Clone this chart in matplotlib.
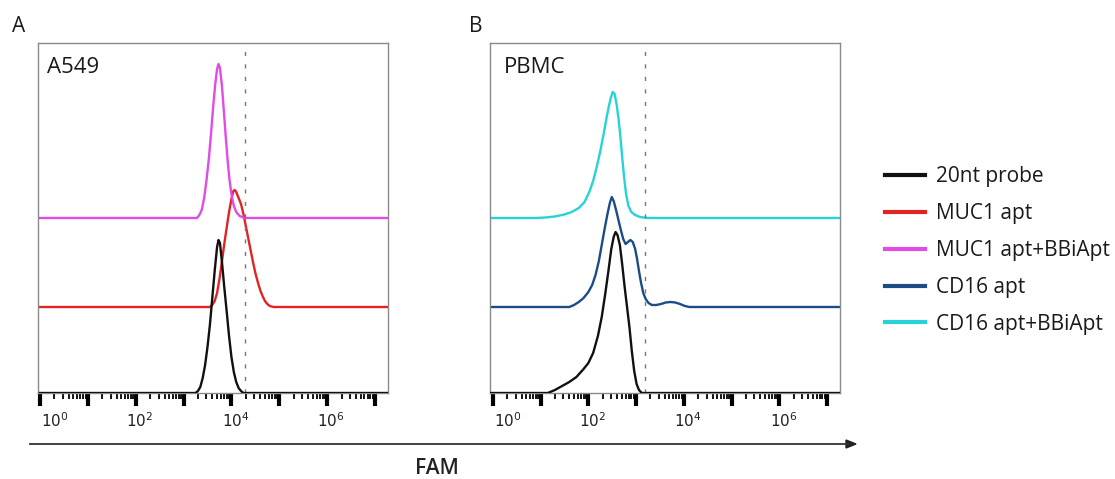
import numpy as np
import matplotlib.pyplot as plt
import matplotlib.transforms as mtrans
from matplotlib.lines import Line2D

plt.rcParams['font.family'] = ['Open Sans', 'DejaVu Sans']

# histogram traces: x = log10(FAM), y = height above own baseline
a_black_x = [0.0, 3.25, 3.30, 3.35, 3.40, 3.45, 3.50, 3.55, 3.60, 3.65, 3.70, 3.73, 3.76, 3.80, 3.85,
             3.90, 3.95, 4.00, 4.05, 4.10, 4.15, 4.20, 4.25, 7.3]
a_black_y = [0, 0, 2, 6, 15, 28, 46, 68, 95, 122, 146, 153, 150, 132, 106, 82, 57, 36, 21, 11, 5, 2, 0, 0]
a_red_x = [0.0, 3.55, 3.60, 3.65, 3.70, 3.75, 3.80, 3.85, 3.90, 3.95, 4.00, 4.04, 4.07, 4.10, 4.15, 4.20,
           4.25, 4.30, 4.35, 4.40, 4.45, 4.50, 4.55, 4.60, 4.65, 4.70, 4.75, 4.80, 4.88, 7.3]
a_red_y = [0, 0, 2, 6, 14, 28, 45, 63, 79, 95, 108, 116, 117, 115, 109, 103, 93, 81, 69, 57, 45, 34, 25,
           17, 11, 6, 3, 1, 0, 0]
a_mag_x = [0.0, 3.28, 3.33, 3.38, 3.43, 3.48, 3.53, 3.58, 3.62, 3.66, 3.70, 3.73, 3.76, 3.80, 3.84, 3.88,
           3.92, 3.96, 4.00, 4.05, 4.10, 4.17, 4.27, 7.3]
a_mag_y = [0, 0, 3, 8, 20, 38, 60, 88, 112, 133, 149, 154, 150, 133, 108, 82, 58, 38, 24, 12, 6, 2, 0, 0]

b_black_x = [-0.1, 1.15, 1.30, 1.45, 1.60, 1.75, 1.90, 2.00, 2.10, 2.20, 2.28, 2.35, 2.42, 2.48, 2.53,
             2.57, 2.61, 2.66, 2.71, 2.76, 2.81, 2.86, 2.91, 2.96, 3.01, 3.06, 3.12, 7.3]
b_black_y = [0, 0, 3, 7, 11, 16, 24, 30, 40, 57, 76, 98, 122, 144, 156, 161, 158, 148, 128, 106, 86, 66,
             42, 22, 9, 3, 0, 0]
b_blue_x = [-0.1, 1.60, 1.70, 1.80, 1.90, 2.00, 2.08, 2.15, 2.22, 2.28, 2.34, 2.40, 2.45, 2.49, 2.53, 2.58,
            2.63, 2.68, 2.73, 2.78, 2.83, 2.88, 2.93, 2.98, 3.02, 3.06, 3.10, 3.15, 3.20, 3.26, 3.33, 3.42,
            3.52, 3.62, 3.72, 3.82, 3.92, 4.02, 4.12, 7.3]
b_blue_y = [0, 0, 2, 5, 9, 15, 22, 32, 46, 62, 78, 93, 104, 110, 106, 97, 87, 77, 68, 63, 65, 67, 65, 58,
            48, 36, 25, 14, 8, 4, 2, 2, 3, 4.5, 5, 4.5, 3, 1, 0, 0]
b_cyan_x = [-0.1, 0.90, 1.10, 1.30, 1.50, 1.65, 1.80, 1.92, 2.02, 2.10, 2.18, 2.25, 2.32, 2.38, 2.43, 2.47,
            2.51, 2.55, 2.59, 2.63, 2.67, 2.71, 2.75, 2.79, 2.84, 2.90, 2.98, 3.08, 3.25, 7.3]
b_cyan_y = [0, 0, 0.5, 1.5, 3.5, 6, 10, 16, 26, 37, 52, 67, 84, 100, 112, 120, 126, 124, 114, 100, 82, 60,
            40, 24, 12, 6, 3, 1, 0, 0]

offsets = [0, 86, 175]
gate_a = 4.28
gate_b = 3.18

labels = ['20nt probe', 'MUC1 apt', 'MUC1 apt+BBiApt', 'CD16 apt', 'CD16 apt+BBiApt']
colors = ['#111111', '#e02424', '#e14be6', '#1b4c86', '#25d3d8']

fig = plt.figure(figsize=(11.15, 4.79), dpi=100)
ax_a = fig.add_axes([38/1115, 86/479, 350/1115, 350/479])
ax_b = fig.add_axes([490/1115, 86/479, 350/1115, 350/479])


def setup(ax, xmin):
    ax.set_xscale('log')
    ax.set_xlim(10**xmin, 10**7.27)
    ax.set_ylim(0, 350)
    ax.set_yticks([])
    for s in ax.spines.values():
        s.set_color('#8a8a8a')
        s.set_linewidth(1)
    ax.set_xticks([10**k for k in range(8)])
    ax.set_xticklabels(['$10^{0}$', '', '$10^{2}$', '', '$10^{4}$', '', '$10^{6}$', ''])
    ax.set_xticks([m * 10**k for k in range(8) for m in range(2, 10) if m * 10**k < 10**7.27], minor=True)
    ax.tick_params(axis='x', which='major', length=9, width=3, color='black', direction='out',
                   labelsize=11, pad=5, labelcolor='#222222')
    ax.tick_params(axis='x', which='minor', length=4.5, width=1.3, color='black', direction='out')
    # labels sit a little right of their ticks, the first one more so
    for i, lbl in enumerate(ax.get_xticklabels()):
        dx = 15 if i == 0 else 4
        lbl.set_transform(lbl.get_transform() + mtrans.ScaledTranslation(dx / 100, 0, fig.dpi_scale_trans))


setup(ax_a, -0.04)
setup(ax_b, -0.06)

lw = 1.7
ax_a.plot(10**np.array(a_black_x), np.array(a_black_y) + offsets[0], color=colors[0], lw=lw, zorder=3)
ax_a.plot(10**np.array(a_red_x), np.array(a_red_y) + offsets[1], color=colors[1], lw=lw)
ax_a.plot(10**np.array(a_mag_x), np.array(a_mag_y) + offsets[2], color=colors[2], lw=lw)
ax_a.axvline(10**gate_a, color='#777777', lw=1, ls=(0, (3, 6)))

ax_b.plot(10**np.array(b_black_x), np.array(b_black_y) + offsets[0], color=colors[0], lw=lw, zorder=3)
ax_b.plot(10**np.array(b_blue_x), np.array(b_blue_y) + offsets[1], color=colors[3], lw=lw)
ax_b.plot(10**np.array(b_cyan_x), np.array(b_cyan_y) + offsets[2], color=colors[4], lw=lw)
ax_b.axvline(10**gate_b, color='#777777', lw=1, ls=(0, (3, 6)))

ax_a.text(0.027, 0.931, 'A549', transform=ax_a.transAxes, fontsize=16, va='center', ha='left',
          color='#1a1a1a', fontweight='medium')
ax_b.text(0.04, 0.931, 'PBMC', transform=ax_b.transAxes, fontsize=16, va='center', ha='left',
          color='#1a1a1a', fontweight='medium')

fig.text(19/1115, 1 - 26/479, 'A', fontsize=15, ha='center', va='center', color='#1a1a1a', fontweight='medium')
fig.text(476/1115, 1 - 26/479, 'B', fontsize=15, ha='center', va='center', color='#1a1a1a', fontweight='medium')

# FAM axis arrow below both panels
fig.add_artist(plt.Line2D([30/1115, 848/1115], [1 - 444/479, 1 - 444/479], color='#333333', lw=1.3))
fig.patches.append(plt.Polygon([[846/1115, 1 - 440/479], [856/1115, 1 - 444/479], [846/1115, 1 - 448/479]],
                               closed=True, color='#222222', transform=fig.transFigure, figure=fig))
fig.text(437/1115, 1 - 468/479, 'FAM', fontsize=15, ha='center', va='center', fontweight='semibold',
         color='#222222')

handles = [Line2D([], [], color=c, lw=3) for c in colors]
leg = fig.legend(handles, labels, loc='upper left', bbox_to_anchor=(877/1115, 1 - 158/479), frameon=False,
                 fontsize=15, handlelength=1.9, handletextpad=0.55, labelspacing=0.76, borderaxespad=0)
for t in leg.get_texts():
    t.set_color('#1a1a1a')
    t.set_fontweight('medium')

fig.savefig('out.png', dpi=100)
